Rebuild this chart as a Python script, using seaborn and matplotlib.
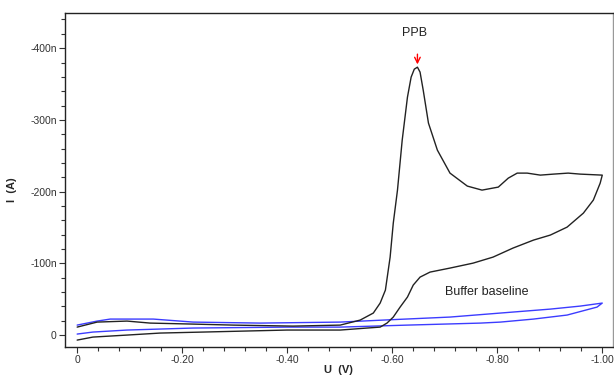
import numpy as np
import pandas as pd
import matplotlib
matplotlib.use("Agg")
import matplotlib.pyplot as plt
from matplotlib.ticker import MultipleLocator, FixedLocator
import seaborn as sns

# PPB scan: forward (0 -> -1.0 V) then reverse back to 0, current in nA
ppbU = [0.0, -0.038, -0.095, -0.139, -0.221, -0.297, -0.411, -0.501, -0.539, -0.564,
        -0.577, -0.587, -0.596, -0.602, -0.610, -0.619, -0.629, -0.636, -0.642, -0.648,
        -0.653, -0.659, -0.669, -0.686, -0.710, -0.743, -0.771, -0.802, -0.821, -0.838,
        -0.857, -0.882, -0.907, -0.935, -0.958, -1.000,
        -0.996, -0.983, -0.964, -0.933, -0.901, -0.869, -0.830, -0.792, -0.754, -0.710,
        -0.672, -0.653, -0.640, -0.629, -0.615, -0.602, -0.590, -0.577, -0.552, -0.501,
        -0.400, -0.240, -0.158, -0.095, -0.030, 0.0]
ppbI = [-11.1, -18.1, -19.5, -16.7, -15.3, -13.9, -12.5, -13.9, -20.9, -30.7,
        -44.6, -62.7, -108.7, -156.1, -202.1, -271.8, -331.7, -359.6, -370.7, -373.5,
        -366.6, -341.5, -295.5, -257.8, -225.8, -207.7, -202.1, -206.3, -218.8, -225.8,
        -225.8, -223.0, -224.4, -225.8, -224.4, -223.0,
        -211.8, -188.2, -170.0, -150.5, -139.4, -132.4, -121.3, -108.7, -100.3, -93.4,
        -87.8, -80.8, -69.7, -53.0, -39.0, -25.1, -16.7, -11.1, -9.8, -7.0,
        -7.0, -4.2, -2.8, 0.0, 2.8, 7.0]

# buffer baseline scan
bufU = [0.0, -0.038, -0.063, -0.145, -0.221, -0.349, -0.501, -0.583, -0.710, -0.806,
        -0.901, -0.958, -1.0,
        -0.990, -0.933, -0.869, -0.806, -0.768, -0.629, -0.501, -0.400, -0.221, -0.095,
        -0.030, 0.0]
bufI = [-13.9, -19.5, -22.3, -22.3, -18.1, -16.7, -18.1, -20.9, -25.1, -30.7,
        -36.2, -40.4, -44.6,
        -39.0, -27.9, -22.3, -18.1, -16.7, -13.9, -11.1, -11.1, -9.8, -7.0,
        -4.2, -1.4]

xTicks = [0.0, -0.2, -0.4, -0.6, -0.8, -1.0]
xTickLabels = ["0", "-0.20", "-0.40", "-0.60", "-0.80", "-1.00"]
yTicks = [-400, -300, -200, -100, 0]
yTickLabels = ["-400n", "-300n", "-200n", "-100n", "0"]

peakU = -0.648
peakI = -373.5

sns.set_style("ticks")
plt.rcParams['font.family'] = ['Liberation Sans', 'DejaVu Sans']

fig = plt.figure(figsize=(6.14, 3.76), dpi=100)
ax = fig.add_axes([0.106, 0.077, 0.892, 0.888])

ppb = pd.DataFrame({"U": ppbU, "I": ppbI})
buf = pd.DataFrame({"U": bufU, "I": bufI})
sns.lineplot(data=buf, x="U", y="I", sort=False, estimator=None, errorbar=None,
             color="#3c3cff", lw=1.0, ax=ax)
sns.lineplot(data=ppb, x="U", y="I", sort=False, estimator=None, errorbar=None,
             color="#222222", lw=1.0, ax=ax)

ax.set_xlim(0.023, -1.02)
ax.set_ylim(16.7, -448.8)

ax.xaxis.set_major_locator(FixedLocator(xTicks))
ax.set_xticklabels(xTickLabels)
ax.xaxis.set_minor_locator(MultipleLocator(0.04))
ax.yaxis.set_major_locator(FixedLocator(yTicks))
ax.set_yticklabels(yTickLabels)
ax.yaxis.set_minor_locator(MultipleLocator(20))
ax.tick_params(which="major", length=4, width=0.8, labelsize=7.5, colors="#333333", pad=2)
ax.tick_params(which="minor", length=3, width=0.8, colors="#333333")

ax.set_xlabel("U  (V)", fontsize=8, fontweight="bold")
ax.set_ylabel("I  (A)", fontsize=8, fontweight="bold")
ax.xaxis.set_label_coords(0.5, -0.055)
ax.yaxis.set_label_coords(-0.088, 0.47)

for side in ["left", "bottom", "top"]:
    ax.spines[side].set_color("#222222")
    ax.spines[side].set_linewidth(1.0)
ax.spines["right"].set_color("#999999")
ax.spines["right"].set_linewidth(1.0)

ax.annotate("", xy=(peakU, peakI), xytext=(peakU, peakI - 22),
            arrowprops=dict(arrowstyle="->", color="red", lw=1.0))
ax.text(peakU + 0.005, peakI - 47, "PPB", ha="center", va="center", fontsize=9, color="#222222")
ax.text(-0.78, -60, "Buffer baseline", ha="center", va="center", fontsize=9, color="#222222")

fig.savefig("out.png", dpi=100)
